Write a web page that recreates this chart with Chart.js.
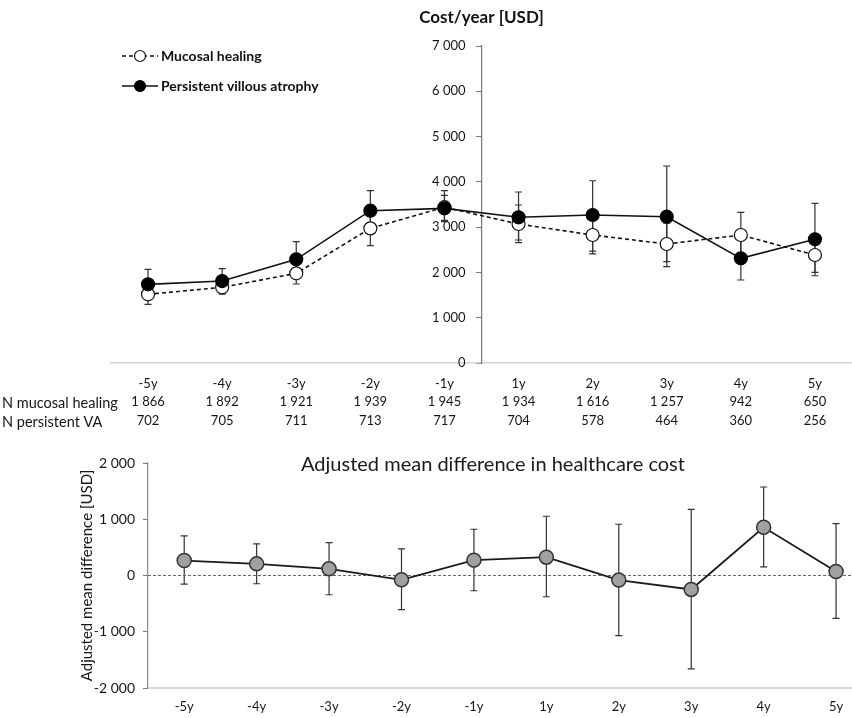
<!DOCTYPE html>
<html>
<head>
<meta charset="utf-8">
<script src="https://cdn.jsdelivr.net/npm/chart.js@4.4.1/dist/chart.umd.min.js"></script>
<style>
  body { margin: 0; background: #fff; }
  #wrap { position: relative; width: 852px; height: 718px; }
  #top { position: absolute; left: 0; top: 0; }
  #bottom { position: absolute; left: 0; top: 440px; }
</style>
</head>
<body>
<div id="wrap">
  <canvas id="top" width="852" height="440"></canvas>
  <canvas id="bottom" width="852" height="278"></canvas>
</div>
<script>
const years = ['-5y', '-4y', '-3y', '-2y', '-1y', '1y', '2y', '3y', '4y', '5y'];
const nMucosal = [1866, 1892, 1921, 1939, 1945, 1934, 1616, 1257, 942, 650];
const nPersistent = [702, 705, 711, 713, 717, 704, 578, 464, 360, 256];

// cost per year, mean and error bar ends
const mucosalMean = [1517, 1671, 1980, 2973, 3440, 3069, 2826, 2628, 2826, 2385];
const mucosalLow = [1296, 1523, 1744, 2590, 3150, 2716, 2410, 2237, 2350, 1927];
const mucosalHigh = [1750, 1820, 2200, 3350, 3700, 3489, 3220, 3090, 3327, 2850];
const persistentMean = [1737, 1810, 2289, 3363, 3415, 3217, 3268, 3231, 2311, 2731];
const persistentLow = [1420, 1540, 1900, 2920, 3120, 2656, 2470, 2127, 1833, 2000];
const persistentHigh = [2069, 2083, 2679, 3805, 3805, 3776, 4025, 4350, 2800, 3526];

// adjusted mean difference
const diffMean = [266, 207, 119, -76, 273, 326, -82, -248, 858, 71];
const diffLow = [-153, -147, -342, -608, -271, -378, -1069, -1660, 154, -762];
const diffHigh = [704, 562, 585, 473, 822, 1053, 911, 1177, 1573, 922];

const FONT = 'Lato, "Open Sans", sans-serif';
const TXT = '#151515';

function fmt(v) {
  const s = String(Math.abs(v)).replace(/\B(?=(\d{3})+(?!\d))/g, ' ');
  return (v < 0 ? '-' : '') + s;
}
const pts = arr => arr.map((v, i) => ({ x: i, y: v }));
const intTicks = s => { s.ticks = years.map((_, i) => ({ value: i })); };

// error bars drawn under the markers
const errorBars = {
  id: 'errorBars',
  beforeDatasetsDraw(chart) {
    const { ctx } = chart;
    const xs = chart.scales.x, ys = chart.scales.y;
    ctx.save();
    ctx.strokeStyle = '#333';
    ctx.lineWidth = 1.2;
    chart.data.datasets.forEach(ds => {
      if (!ds.errLow) return;
      ds.errLow.forEach((lo, i) => {
        const x = xs.getPixelForValue(i);
        const y1 = ys.getPixelForValue(lo);
        const y2 = ys.getPixelForValue(ds.errHigh[i]);
        ctx.beginPath();
        ctx.moveTo(x, y1); ctx.lineTo(x, y2);
        ctx.moveTo(x - 3.5, y1); ctx.lineTo(x + 3.5, y1);
        ctx.moveTo(x - 3.5, y2); ctx.lineTo(x + 3.5, y2);
        ctx.stroke();
      });
    });
    ctx.restore();
  }
};

// top: title, legend and row headers of the N table
const topDecor = {
  id: 'topDecor',
  afterDraw(chart) {
    const { ctx, chartArea } = chart;
    const xs = chart.scales.x;
    ctx.save();
    ctx.fillStyle = '#111';
    ctx.font = 'bold 17px ' + FONT;
    ctx.textAlign = 'center';
    ctx.textBaseline = 'middle';
    ctx.fillText('Cost/year [USD]', (chartArea.left + chartArea.right) / 2, 18);

    // legend
    chart.data.datasets.forEach((ds, k) => {
      const y = 56 + k * 30;
      ctx.beginPath();
      ctx.setLineDash(ds.borderDash || []);
      ctx.strokeStyle = ds.borderColor;
      ctx.lineWidth = ds.borderWidth;
      ctx.moveTo(122, y); ctx.lineTo(158, y);
      ctx.stroke();
      ctx.setLineDash([]);
      ctx.beginPath();
      ctx.arc(140, y, 5.5, 0, Math.PI * 2);
      ctx.fillStyle = ds.pointBackgroundColor;
      ctx.fill();
      ctx.lineWidth = 1.2;
      ctx.strokeStyle = ds.pointBorderColor;
      ctx.stroke();
      ctx.fillStyle = '#111';
      ctx.font = 'bold 14px ' + FONT;
      ctx.textAlign = 'left';
      ctx.fillText(ds.label, 161, y);
    });

    // row headers
    const lh = 13 * 1.45;
    const y0 = xs.top + xs.options.ticks.padding;
    ctx.font = '14.5px ' + FONT;
    ctx.fillStyle = TXT;
    ctx.textAlign = 'left';
    ctx.fillText('N mucosal healing', 2, y0 + lh * 1.5 + 1);
    ctx.fillText('N persistent VA', 2, y0 + lh * 2.5 + 1);
    ctx.restore();
  }
};

new Chart(document.getElementById('top'), {
  type: 'line',
  data: {
    datasets: [
      {
        label: 'Mucosal healing',
        data: pts(mucosalMean),
        errLow: mucosalLow,
        errHigh: mucosalHigh,
        borderColor: '#111',
        borderWidth: 1.6,
        borderDash: [4, 3],
        pointRadius: 6.5,
        pointBackgroundColor: '#fff',
        pointBorderColor: '#111',
        pointBorderWidth: 1.2,
        order: 2
      },
      {
        label: 'Persistent villous atrophy',
        data: pts(persistentMean),
        errLow: persistentLow,
        errHigh: persistentHigh,
        borderColor: '#111',
        borderWidth: 1.6,
        pointRadius: 6.5,
        pointBackgroundColor: '#000',
        pointBorderColor: '#000',
        pointBorderWidth: 1.2,
        order: 1
      }
    ]
  },
  options: {
    responsive: false,
    animation: false,
    devicePixelRatio: 1,
    layout: { autoPadding: false, padding: { top: 46, left: 111, right: 0, bottom: 0 } },
    plugins: { legend: { display: false }, tooltip: { enabled: false } },
    scales: {
      x: {
        type: 'linear',
        position: 'bottom',
        min: -0.5,
        max: 9.5,
        afterBuildTicks: intTicks,
        afterFit: s => { s.height = 77; s.paddingLeft = 0; s.paddingRight = 0; },
        grid: { display: false, drawTicks: false },
        border: { color: '#d4d4d4', width: 1.5 },
        ticks: {
          padding: 11,
          maxRotation: 0,
          autoSkip: false,
          color: TXT,
          font: { family: FONT, size: 13, lineHeight: 1.45 },
          callback: v => [years[v], fmt(nMucosal[v]), fmt(nPersistent[v])]
        }
      },
      y: {
        position: 'center',
        min: 0,
        max: 7000,
        grid: { drawOnChartArea: false, drawTicks: true, tickLength: 5, color: '#777' },
        border: { color: '#777', width: 1.2 },
        ticks: {
          stepSize: 1000,
          padding: 11,
          color: TXT,
          font: { family: FONT, size: 13 },
          callback: v => fmt(v)
        }
      }
    }
  },
  plugins: [errorBars, topDecor]
});

// bottom: title and zero line
const bottomDecor = {
  id: 'bottomDecor',
  beforeDatasetsDraw(chart) {
    const { ctx, chartArea } = chart;
    const y = chart.scales.y.getPixelForValue(0);
    ctx.save();
    ctx.strokeStyle = '#666';
    ctx.lineWidth = 1;
    ctx.setLineDash([3, 2]);
    ctx.beginPath();
    ctx.moveTo(chartArea.left, y); ctx.lineTo(chartArea.right, y);
    ctx.stroke();
    ctx.restore();
  },
  afterDraw(chart) {
    const { ctx, chartArea } = chart;
    ctx.save();
    ctx.fillStyle = '#1a1a1a';
    ctx.font = '20px ' + FONT;
    ctx.textAlign = 'center';
    ctx.textBaseline = 'middle';
    ctx.fillText('Adjusted mean difference in healthcare cost', (chartArea.left + chartArea.right) / 2 - 7, chartArea.top + 2);
    ctx.restore();
  }
};

new Chart(document.getElementById('bottom'), {
  type: 'line',
  data: {
    datasets: [{
      label: 'Adjusted mean difference',
      data: pts(diffMean),
      errLow: diffLow,
      errHigh: diffHigh,
      borderColor: '#1a1a1a',
      borderWidth: 1.8,
      pointRadius: 7,
      pointBackgroundColor: '#a0a0a0',
      pointBorderColor: '#333',
      pointBorderWidth: 1.5
    }]
  },
  options: {
    responsive: false,
    animation: false,
    devicePixelRatio: 1,
    layout: { autoPadding: false, padding: { top: 23, left: 0, right: 0, bottom: 0 } },
    plugins: { legend: { display: false }, tooltip: { enabled: false } },
    scales: {
      x: {
        type: 'linear',
        min: -0.5,
        max: 9.22,
        afterBuildTicks: intTicks,
        afterFit: s => { s.height = 30; s.paddingLeft = 0; s.paddingRight = 0; },
        grid: { display: false, drawTicks: false },
        border: { color: '#d9d9d9', width: 2 },
        ticks: {
          padding: 11,
          maxRotation: 0,
          autoSkip: false,
          color: TXT,
          font: { family: FONT, size: 13 },
          callback: v => years[v]
        }
      },
      y: {
        min: -2000,
        max: 2000,
        afterFit: s => { s.width = 148; },
        grid: { drawOnChartArea: false, drawTicks: true, tickLength: 5, color: '#777' },
        border: { color: '#888', width: 1.2 },
        title: {
          display: true,
          text: 'Adjusted mean difference [USD]',
          color: TXT,
          font: { family: FONT, size: 15 },
          padding: { top: 78, bottom: 0 }
        },
        ticks: {
          stepSize: 1000,
          padding: 8,
          color: TXT,
          font: { family: FONT, size: 14 },
          callback: v => fmt(v)
        }
      }
    }
  },
  plugins: [errorBars, bottomDecor]
});
</script>
</body>
</html>
